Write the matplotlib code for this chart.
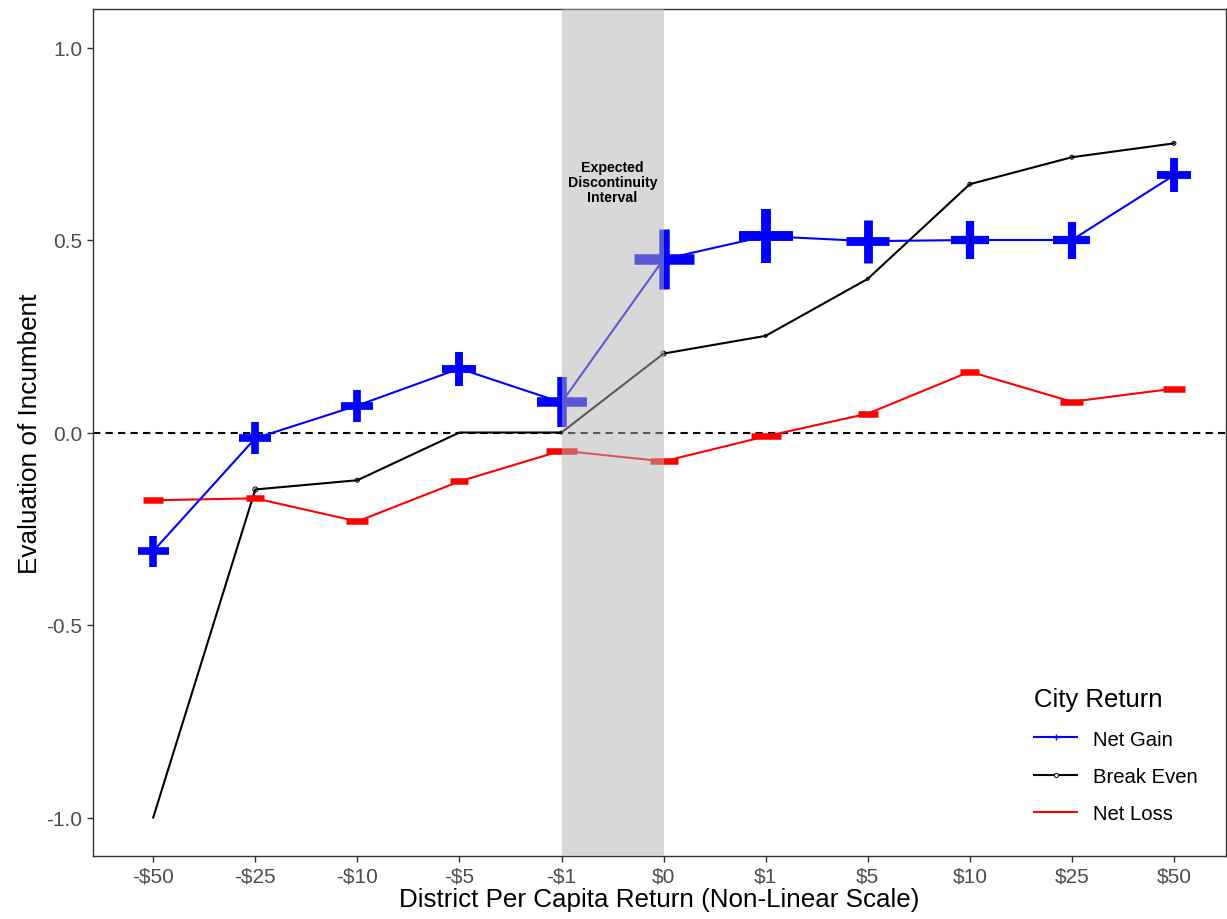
import matplotlib
matplotlib.use("Agg")
import matplotlib.pyplot as plt
from matplotlib.lines import Line2D
import numpy as np

plt.rcParams['font.family'] = ['Liberation Sans', 'DejaVu Sans']

# x categories (non-linear scale)
ticks = ['-$50', '-$25', '-$10', '-$5', '-$1', '$0', '$1', '$5', '$10', '$25', '$50']

# series values
net_gain = [-0.308, -0.015, 0.07, 0.166, 0.078, 0.45, 0.51, 0.497, 0.50, 0.50, 0.668]
break_even = [-1.0, -0.148, -0.124, 0.0, 0.0, 0.205, 0.251, 0.399, 0.645, 0.715, 0.751]
net_loss = [-0.176, -0.171, -0.231, -0.127, -0.047, -0.075, -0.01, 0.049, 0.158, 0.08, 0.114]

# marker sizes (pixels), roughly proportional to number of obs
gain_size = [31, 32, 32, 34, 50, 60, 54, 43, 38, 37, 34]
loss_size = [20, 18, 22, 18, 31, 28, 30, 20, 19, 23, 22]
even_size = [0, 5, 4, 0, 3, 5, 3, 3, 4, 4, 4]

px = 0.72  # pixel -> point at dpi 100
x = np.arange(len(ticks))

fig = plt.figure(figsize=(12.27, 9.2), dpi=100)
ax = fig.add_axes([93 / 1227, 63 / 920, 1133 / 1227, 847 / 920])

ax.axhline(0, color='black', lw=1.5, ls=(0, (3.5, 2.5)), zorder=1)

# lines
ax.plot(x, net_gain, color='#0000ff', lw=1.5, zorder=3)
ax.plot(x, break_even, color='black', lw=1.5, zorder=2)
ax.plot(x, net_loss, color='#ff0000', lw=1.5, zorder=2)

# markers with varying sizes
gs = np.array(gain_size) * px
ax.scatter(x, net_gain, marker='+', s=gs ** 2, linewidths=(4.5 + 0.1 * np.array(gain_size)) * px,
           color='#0000ff', zorder=4)
ls_ = np.array(loss_size) * px
ax.scatter(x, net_loss, marker='_', s=ls_ ** 2, linewidths=6.5 * px, color='#ff0000', zorder=4)
es = np.array(even_size) * px
ax.scatter(x, break_even, marker='o', s=es ** 2, facecolors='none', edgecolors='black',
           linewidths=0.7, zorder=4)

# grey band drawn over the data
ax.axvspan(4, 5, color=(0.7, 0.7, 0.7), alpha=0.5, lw=0, zorder=10)
ax.text(4.5, 0.65, 'Expected\nDiscontinuity\nInterval', ha='center', va='center',
        fontsize=10.2, fontweight='bold', linespacing=1.1, zorder=11)

ax.set_xlim(-0.59, 10.51)
ax.set_ylim(-1.1, 1.1)
ax.set_xticks(x)
ax.set_xticklabels(ticks)
ax.set_yticks([-1.0, -0.5, 0.0, 0.5, 1.0])
ax.set_yticklabels(['-1.0', '-0.5', '0.0', '0.5', '1.0'])
ax.tick_params(axis='both', labelsize=15, labelcolor='#4d4d4d', color='#333333',
               length=4, width=1)
for sp in ax.spines.values():
    sp.set_color('#333333')
    sp.set_linewidth(1)

ax.set_xlabel('District Per Capita Return (Non-Linear Scale)', fontsize=18.7, labelpad=1)
ax.set_ylabel('Evaluation of Incumbent', fontsize=18.8, labelpad=3)

handles = [
    Line2D([], [], color='#0000ff', lw=1.5, marker='+', ms=4),
    Line2D([], [], color='black', lw=1.5, marker='o', ms=3, mfc='white', mew=0.7),
    Line2D([], [], color='#ff0000', lw=1.5),
]
leg = ax.legend(handles, ['Net Gain', 'Break Even', 'Net Loss'], title='City Return',
                loc='upper left', bbox_to_anchor=(1016 / 1227, 1 - 670 / 920),
                bbox_transform=fig.transFigure, frameon=False, fontsize=14.6,
                title_fontsize=18.5, handlelength=2.1, labelspacing=0.9,
                alignment='left')

fig.savefig('out.png', dpi=100)
